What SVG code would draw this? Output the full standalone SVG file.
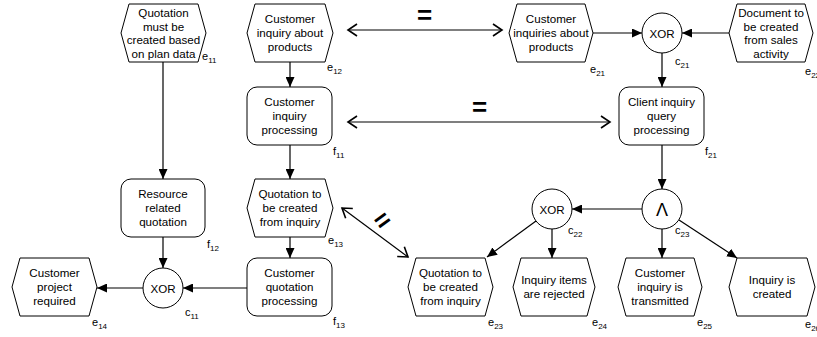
<svg xmlns="http://www.w3.org/2000/svg" width="817" height="337" viewBox="0 0 817 337">
<style>
.s{fill:#fff;stroke:#000;stroke-width:1}
.t{font-family:"Liberation Sans",Arial,sans-serif;font-size:11.6px;text-anchor:middle;fill:#000}
.l{font-family:"Liberation Sans",Arial,sans-serif;font-size:11px;fill:#000}
.sub{font-size:8px}
.c{stroke:#000;stroke-width:1.2;fill:none}
.eq{font-family:"Liberation Sans",Arial,sans-serif;font-size:26px;font-weight:bold;text-anchor:middle;fill:#000}
</style>
<defs>
<marker id="a" markerUnits="userSpaceOnUse" markerWidth="11" markerHeight="9" refX="10" refY="4.5" orient="auto"><path d="M0,0 L10,4.5 L0,9 z" fill="#000"/></marker>
<marker id="o" markerUnits="userSpaceOnUse" markerWidth="12" markerHeight="14" refX="10" refY="7" orient="auto-start-reverse"><path d="M1,1 L10,7 L1,13" fill="none" stroke="#000" stroke-width="1.6"/></marker>
</defs>
<g id="connectors">
<line class="c" x1="163" y1="62" x2="163" y2="179" marker-end="url(#a)"/>
<line class="c" x1="163" y1="237" x2="163" y2="268" marker-end="url(#a)"/>
<line class="c" x1="247" y1="288" x2="183" y2="288" marker-end="url(#a)"/>
<line class="c" x1="143" y1="288" x2="97" y2="288" marker-end="url(#a)"/>
<line class="c" x1="290" y1="62" x2="290" y2="87" marker-end="url(#a)"/>
<line class="c" x1="290" y1="145" x2="290" y2="179" marker-end="url(#a)"/>
<line class="c" x1="290" y1="237" x2="290" y2="258" marker-end="url(#a)"/>
<line class="c" x1="593" y1="33" x2="642" y2="33" marker-end="url(#a)"/>
<line class="c" x1="729" y1="33" x2="682" y2="33" marker-end="url(#a)"/>
<line class="c" x1="662" y1="53" x2="662" y2="87" marker-end="url(#a)"/>
<line class="c" x1="662" y1="145" x2="662" y2="189" marker-end="url(#a)"/>
<line class="c" x1="642" y1="209" x2="572" y2="209" marker-end="url(#a)"/>
<line class="c" x1="552" y1="229" x2="552" y2="258" marker-end="url(#a)"/>
<line class="c" x1="536" y1="221" x2="487" y2="257" marker-end="url(#a)"/>
<line class="c" x1="662" y1="229" x2="662" y2="258" marker-end="url(#a)"/>
<line class="c" x1="679" y1="220" x2="737" y2="258" marker-end="url(#a)"/>
<line class="c" x1="348" y1="30" x2="502" y2="30" marker-start="url(#o)" marker-end="url(#o)"/>
<line class="c" x1="348" y1="122" x2="610" y2="122" marker-start="url(#o)" marker-end="url(#o)"/>
<line class="c" x1="342" y1="208" x2="408" y2="257" marker-start="url(#o)" marker-end="url(#o)"/>
<text class="eq" x="424.5" y="24">=</text>
<text class="eq" x="479.5" y="116">=</text>
<text class="eq" transform="translate(382,220) rotate(-36)" x="0" y="9">=</text>
</g>
<g id="e11"><path class="s" d="M121,33 L129,4 L198,4 L206,33 L198,62 L129,62 Z"/>
<text class="t" x="163.5" y="17">Quotation</text><text class="t" x="163.5" y="30.5">must be</text><text class="t" x="163.5" y="44">created based</text><text class="t" x="163.5" y="57.5">on plan data</text>
<text class="l" x="202" y="60">e<tspan class="sub" dy="3">11</tspan></text></g>
<g id="e12"><path class="s" d="M247,33 L255,4 L325,4 L333,33 L325,62 L255,62 Z"/>
<text class="t" x="290" y="23">Customer</text><text class="t" x="290" y="37">inquiry about</text><text class="t" x="290" y="51">products</text>
<text class="l" x="327" y="71">e<tspan class="sub" dy="3">12</tspan></text></g>
<g id="e21"><path class="s" d="M509,33 L517,4 L585,4 L593,33 L585,62 L517,62 Z"/>
<text class="t" x="551" y="23">Customer</text><text class="t" x="551" y="37">inquiries about</text><text class="t" x="551" y="51">products</text>
<text class="l" x="590" y="73">e<tspan class="sub" dy="3">21</tspan></text></g>
<g id="c21"><circle class="s" cx="662" cy="33" r="20"/><text class="t" x="662" y="37.5">XOR</text>
<text class="l" x="675" y="65">c<tspan class="sub" dy="3">21</tspan></text></g>
<g id="e22"><path class="s" d="M729,33 L737,4 L805,4 L813,33 L805,62 L737,62 Z"/>
<text class="t" x="771" y="17">Document to</text><text class="t" x="771" y="30.5">be created</text><text class="t" x="771" y="44">from sales</text><text class="t" x="771" y="57.5">activity</text>
<text class="l" x="805" y="75">e<tspan class="sub" dy="3">22</tspan></text></g>
<g id="f11"><rect class="s" x="247" y="87" width="85" height="58" rx="10"/>
<text class="t" x="289.5" y="106">Customer</text><text class="t" x="289.5" y="120">inquiry</text><text class="t" x="289.5" y="134">processing</text>
<text class="l" x="333" y="155">f<tspan class="sub" dy="3">11</tspan></text></g>
<g id="f21"><rect class="s" x="619" y="87" width="85" height="58" rx="10"/>
<text class="t" x="661.5" y="106">Client inquiry</text><text class="t" x="661.5" y="120">query</text><text class="t" x="661.5" y="134">processing</text>
<text class="l" x="705" y="155">f<tspan class="sub" dy="3">21</tspan></text></g>
<g id="f12"><rect class="s" x="121" y="179" width="84" height="58" rx="10"/>
<text class="t" x="163" y="198">Resource</text><text class="t" x="163" y="212">related</text><text class="t" x="163" y="226">quotation</text>
<text class="l" x="207" y="248">f<tspan class="sub" dy="3">12</tspan></text></g>
<g id="e13"><path class="s" d="M247,208 L255,179 L325,179 L333,208 L325,237 L255,237 Z"/>
<text class="t" x="290" y="198">Quotation to</text><text class="t" x="290" y="212">be created</text><text class="t" x="290" y="226">from inquiry</text>
<text class="l" x="328" y="244">e<tspan class="sub" dy="3">13</tspan></text></g>
<g id="c22"><circle class="s" cx="552" cy="209" r="20"/><text class="t" x="552" y="213.5">XOR</text>
<text class="l" x="568" y="234">c<tspan class="sub" dy="3">22</tspan></text></g>
<g id="c23"><circle class="s" cx="662" cy="209" r="20"/><text class="t" x="662" y="216" style="font-size:18px">Λ</text>
<text class="l" x="675" y="234">c<tspan class="sub" dy="3">23</tspan></text></g>
<g id="e14"><path class="s" d="M12,287 L20,258 L89,258 L97,287 L89,316 L20,316 Z"/>
<text class="t" x="54.5" y="277">Customer</text><text class="t" x="54.5" y="291">project</text><text class="t" x="54.5" y="305">required</text>
<text class="l" x="92" y="326">e<tspan class="sub" dy="3">14</tspan></text></g>
<g id="c11"><circle class="s" cx="163" cy="288" r="20"/><text class="t" x="163" y="292.5">XOR</text>
<text class="l" x="185" y="316">c<tspan class="sub" dy="3">11</tspan></text></g>
<g id="f13"><rect class="s" x="247" y="258" width="85" height="58" rx="10"/>
<text class="t" x="289.5" y="277">Customer</text><text class="t" x="289.5" y="291">quotation</text><text class="t" x="289.5" y="305">processing</text>
<text class="l" x="333" y="325">f<tspan class="sub" dy="3">13</tspan></text></g>
<g id="e23"><path class="s" d="M408,287 L416,258 L485,258 L493,287 L485,316 L416,316 Z"/>
<text class="t" x="450.5" y="277">Quotation to</text><text class="t" x="450.5" y="291">be created</text><text class="t" x="450.5" y="305">from inquiry</text>
<text class="l" x="488" y="326">e<tspan class="sub" dy="3">23</tspan></text></g>
<g id="e24"><path class="s" d="M513,287 L521,258 L587,258 L595,287 L587,316 L521,316 Z"/>
<text class="t" x="554" y="284">Inquiry items</text><text class="t" x="554" y="298">are rejected</text>
<text class="l" x="592" y="326">e<tspan class="sub" dy="3">24</tspan></text></g>
<g id="e25"><path class="s" d="M618,287 L626,258 L694,258 L702,287 L694,316 L626,316 Z"/>
<text class="t" x="660" y="277">Customer</text><text class="t" x="660" y="291">inquiry is</text><text class="t" x="660" y="305">transmitted</text>
<text class="l" x="697" y="326">e<tspan class="sub" dy="3">25</tspan></text></g>
<g id="e26"><path class="s" d="M729,287 L737,258 L807,258 L815,287 L807,316 L737,316 Z"/>
<text class="t" x="772" y="284">Inquiry is</text><text class="t" x="772" y="298">created</text>
<text class="l" x="805" y="328">e<tspan class="sub" dy="3">26</tspan></text></g>
</svg>
